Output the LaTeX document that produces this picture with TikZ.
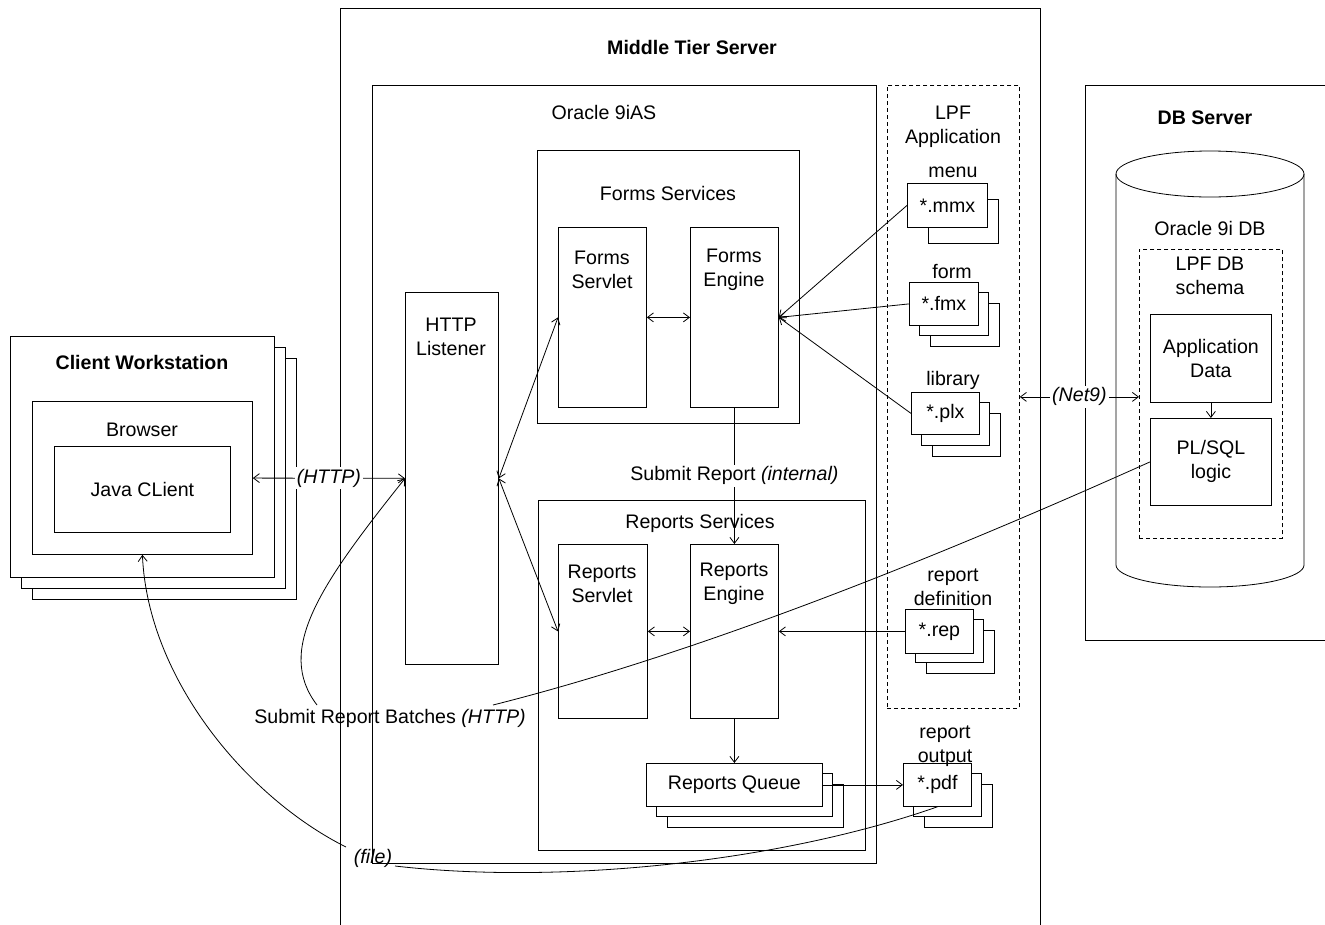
\documentclass[tikz,border=0pt]{standalone}
\usepackage{fontspec}
\setmainfont{Liberation Sans}
\usetikzlibrary{arrows.meta}

\begin{document}
\begin{tikzpicture}
  [x=1pt, y=-1pt, line width=0.8pt, >={Straight Barb[length=6pt, width=9pt]},
   font=\fontsize{19.6}{24}\selectfont,
   box/.style={draw, anchor=north west, inner sep=0pt, align=center},
   dashbox/.style={box, dash pattern=on 4pt off 3pt},
   doc/.style={box, fill=white},
   txt/.style={inner sep=0pt, align=center},
   title/.style={txt, font=\fontsize{19.6}{24}\selectfont\bfseries},
   lbl/.style={inner sep=2pt, fill=white}]
  \useasboundingbox (0, 0) rectangle (1325, 924);
  \clip (0, 0) rectangle (1325, 924);

  % client workstation
  \foreach \k in {2, 1}
    \draw [fill=white] (10+\k*11, 336+\k*11) rectangle +(264, 241);
  \node (cw) at (10, 336) [doc, minimum width=264pt, minimum height=241pt] {};
  \node (cwt) at (142, 362) [title] {Client Workstation};
  \node (br) at (32, 401) [box, minimum width=220pt, minimum height=153pt] {};
  \node (brt) at (142, 430) [txt] {Browser};
  \node (jc) at (54, 446) [box, minimum width=176pt, minimum height=86pt] {Java CLient};

  % middle tier
  \node (mts) at (340, 8) [box, minimum width=700pt, minimum height=940pt] {};
  \node (mtst) at (692, 47) [title] {Middle Tier Server};
  \node (ias) at (372, 85) [box, minimum width=504pt, minimum height=778pt] {};
  \node (iast) at (604, 112) [txt] {Oracle 9iAS};
  \node (hl) at (405, 292) [box, minimum width=93pt, minimum height=372pt] {};
  \node (hlt) at (451, 337) [txt] {HTTP\\Listener};

  \node (fs) at (537, 150) [box, minimum width=262pt, minimum height=273pt] {};
  \node (fst) at (668, 193) [txt] {Forms Services};
  \node (fsv) at (558, 227) [box, minimum width=88pt, minimum height=180pt] {};
  \node (fsvt) at (602, 270) [txt] {Forms\\Servlet};
  \node (fe) at (690, 227) [box, minimum width=88pt, minimum height=180pt] {};
  \node (fet) at (734, 270) [txt] {Forms\\Engine};

  \node (rs) at (538, 500) [box, minimum width=327pt, minimum height=350pt] {};
  \node (rst) at (700, 523) [txt] {Reports Services};
  \node (rsv) at (558, 544) [box, minimum width=89pt, minimum height=174pt] {};
  \node (rsvt) at (602, 584) [txt] {Reports\\Servlet};
  \node (re) at (690, 544) [box, minimum width=88pt, minimum height=174pt] {};
  \node (ret) at (734, 584) [txt] {Reports\\Engine};
  \foreach \k in {2, 1}
    \draw [fill=white] (646+\k*10.5, 763+\k*10.5) rectangle +(176, 43);
  \node (rq) at (646, 763) [doc, minimum width=176pt, minimum height=43pt] {Reports Queue};

  % LPF application files
  \node (lpf) at (887, 85) [dashbox, minimum width=132pt, minimum height=623pt] {};
  \node (lpft) at (953, 127) [txt] {LPF\\Application};
  \foreach \x/\y/\w in {909/282/69, 911/392/68, 905/609/68, 903/763/68}
    \foreach \k in {2, 1}
      \draw [fill=white] (\x+\k*10.5, \y+\k*10.5) rectangle +(\w, 43);
  \draw [fill=white] (928, 199) rectangle +(70, 44);
  \node (mmx) at (907, 183) [doc, minimum width=80pt, minimum height=44pt] {*.mmx};
  \node (fmx) at (909, 282) [doc, minimum width=69pt, minimum height=43pt] {*.fmx};
  \node (plx) at (911, 392) [doc, minimum width=68pt, minimum height=42pt] {*.plx};
  \node (rep) at (905, 609) [doc, minimum width=68pt, minimum height=44pt] {*.rep};
  \node (pdf) at (903, 763) [doc, minimum width=68pt, minimum height=43pt] {*.pdf};
  \node (mmxt) at (953, 172) [txt] {menu};
  \node (fmxt) at (952, 271) [txt] {form};
  \node (plxt) at (953, 380) [txt] {library};
  \node (rept) at (953, 587) [txt] {report\\definition};
  \node (pdft) at (945, 746) [txt] {report\\output};

  % db server
  \node (dbs) at (1085, 85) [box, minimum width=260pt, minimum height=555pt] {};
  \node (dbst) at (1205, 118) [title] {DB Server};
  \draw (1116, 174) -- (1116, 565) .. controls (1116, 577) and (1158, 587) .. (1210, 587)
    .. controls (1262, 587) and (1304, 577) .. (1304, 565) -- (1304, 174);
  \draw (1210, 174) ellipse [x radius=94, y radius=23];
  \node (odbt) at (1210, 228) [txt] {Oracle 9i DB};
  \node (sch) at (1139, 249) [dashbox, minimum width=143pt, minimum height=289pt] {};
  \node (scht) at (1210, 276) [txt] {LPF DB\\schema};
  \node (ad) at (1150, 314) [box, minimum width=121pt, minimum height=88pt] {Application\\Data};
  \node (pl) at (1150, 418) [box, minimum width=121pt, minimum height=87pt] {PL/SQL\\logic};

  % connectors
  \draw [<->] (br) -- node (http) [lbl] {\textit{(HTTP)}} (hl);
  \draw [<->] (hl.east) -- (fsv.west);
  \draw [<->] (hl.east) -- (rsv.west);
  \draw [<->] (fsv) -- (fe);
  \draw [<->] (rsv) -- (re);
  \foreach \d in {mmx, fmx, plx}
    \draw [->] (\d.west) -- (fe.east);
  \draw [->] (rep) -- (re);
  \draw [->] (fe) -- node (sub) [lbl] {Submit Report \textit{(internal)}} (re);
  \draw [->] (re) -- (rq);
  \draw [->] (rq) -- (pdf);
  \draw [<->] (lpf.east) -- node (net) [lbl] {\textit{(Net9)}} (lpf.east -| sch.west);
  \draw [->] (ad) -- (pl);

  \coordinate (b1) at (493, 705);
  \coordinate (b2) at (317, 705);
  \node (bat) at (390, 718) [txt] {Submit Report Batches \textit{(HTTP)}};
  \draw (pl.west) .. controls (887, 580) and (668, 661) .. (b1);
  \draw [->] (b2) .. controls (275, 650) and (320, 585) .. (hl.west);

  \coordinate (f1) at (395, 866);
  \coordinate (f2) at (346, 847);
  \node (file) at (373, 858) [txt] {\textit{(file)}};
  \draw (pdf.south) .. controls (780, 862) and (560, 885) .. (f1);
  \draw [->] (f2) .. controls (248, 798) and (148, 680) .. (br.south);
\end{tikzpicture}
\end{document}
